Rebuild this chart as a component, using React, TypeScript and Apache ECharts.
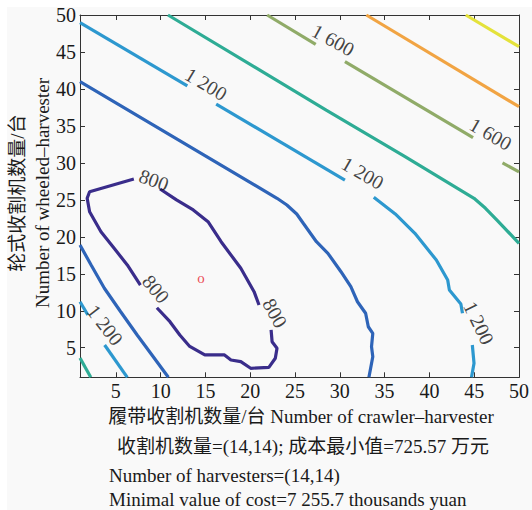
import React, { useEffect, useRef } from "react";
import * as echarts from "echarts";

// ---------- data ----------
const axisTicks = [5, 10, 15, 20, 25, 30, 35, 40, 45, 50];

const contourLevels = [800, 1000, 1200, 1400, 1600, 1800, 2000];

// contour segments [crawler, wheeled] (gaps where labels sit)
const c800a = [[7.01, 27.82], [2.07, 26.1], [1.8, 25.21], [2.07, 23.4], [3.34, 20.69], [4.81, 18.45], [6.28, 16.19], [7.74, 13.48]];
const c800b = [[9.58, 10.41], [11.04, 8.52], [12.14, 6.72], [13.2, 5.23], [14.93, 4.02], [17.13, 4.02], [17.85, 3.34], [18.95, 3.11], [20.05, 2.22], [22.08, 2.35], [22.8, 3.57], [22.99, 4.92], [22.44, 5.81], [22.33, 7.4]];
const c800c = [[20.98, 10.78], [20.43, 12.58], [18.95, 15.74], [16.75, 19.34], [15.29, 22.04], [13.64, 23.63], [11.77, 24.99], [9.94, 26.47]];

const c1000a = [[1, 18.89], [2.24, 16.19], [3.72, 13.04], [5.54, 9.87], [7.38, 6.72], [9.03, 4.02], [10.86, 1]];
const c1000b = [[1, 40.98], [22.99, 25.21], [24.09, 24.3], [25.19, 23.09], [25.92, 21.83], [27.39, 19.34], [28.67, 17.77], [30.13, 15.28], [31.23, 13.25], [31.97, 11.22], [32.88, 9.66], [33.18, 7.84], [33.68, 6.95], [33.54, 5.14], [33.68, 3.79], [33.25, 1]];

const c1200a = [[1, 11.22], [1.88, 9.43]];
const c1200b = [[3.75, 5.37], [6.28, 1]];
const c1200c = [[1, 48.96], [12.98, 40.4]];
const c1200d = [[16.2, 37.96], [30.57, 27.68]];
const c1200e = [[33.79, 25.34], [36.19, 23.09], [38.38, 20.48], [40.77, 16.86], [42.04, 14.16], [42.23, 12.81], [43.51, 10.91], [43.69, 9.66]];
const c1200f = [[44.79, 5.37], [44.98, 2.89], [44.7, 1]];

const c1400a = [[1, 3.6], [2.2, 1]];
const c1400b = [[10.82, 50], [28.48, 37.15], [37.28, 30.83], [44.98, 25.21], [46.26, 23.86], [47.54, 22.27], [50, 19.12]];

const c1600a = [[21.89, 50], [27.31, 46.03]];
const c1600b = [[30.57, 43.68], [44.87, 33.4]];
const c1600c = [[48.16, 30.0], [50, 28.78]];

const c1800a = [[32.96, 50], [50, 37.6]];
const c2000a = [[44.06, 50], [50, 45.71]];

const segments: [number, number[][]][] = [
  [800, c800a], [800, c800b], [800, c800c],
  [1000, c1000a], [1000, c1000b],
  [1200, c1200a], [1200, c1200b], [1200, c1200c], [1200, c1200d], [1200, c1200e], [1200, c1200f],
  [1400, c1400a], [1400, c1400b],
  [1600, c1600a], [1600, c1600b], [1600, c1600c],
  [1800, c1800a],
  [2000, c2000a],
];

// contour labels: [x, y, text, angle]
const contourLabels: [number, number, string, number][] = [
  [15.07, 40.67, "1 200", -31],
  [29.25, 46.62, "1 600", -29],
  [46.84, 33.91, "1 600", -30],
  [32.55, 28.64, "1 200", -30],
  [45.52, 8.34, "1 200", -64],
  [3.8, 8.07, "1 200", -52],
  [9.25, 27.69, "800", -20],
  [9.47, 12.94, "800", -50],
  [22.77, 9.7, "800", -61],
];

const optimum = [14, 14];

const xName = "履带收割机数量/台 Number of crawler–harvester";
const yNameCn = "轮式收割机数量/台";
const yNameEn = "Number of wheeled–harvester";
const noteCn = "收割机数量=(14,14); 成本最小值=725.57 万元";
const noteEn1 = "Number of harvesters=(14,14)";
const noteEn2 = "Minimal value of cost=7 255.7 thousands yuan";

// ---------- styles ----------
const levelColors: Record<number, string> = {
  800: "#3a2d8b",
  1000: "#2e64b8",
  1200: "#2d98cf",
  1400: "#2eac95",
  1600: "#90ab68",
  1800: "#f1a443",
  2000: "#e4e23b",
};
const SERIF = "Liberation Serif";
const FONT = "'Liberation Serif', 'Noto Sans CJK SC', serif";

export default function App() {
  const ref = useRef<HTMLDivElement>(null);
  useEffect(() => {
    if (!ref.current) return;
    const chart = echarts.init(ref.current, null, { renderer: "svg" });

    const baseAxis = (showLabel: boolean, pos: string) => ({
      type: "value",
      min: 1,
      max: 50,
      position: pos,
      axisLine: { show: true, onZero: false, lineStyle: { color: "#333", width: 1 } },
      axisTick: { show: true, inside: true, length: 5, customValues: axisTicks, lineStyle: { color: "#333", width: 1 } },
      axisLabel: {
        show: showLabel,
        customValues: axisTicks,
        fontSize: 20,
        fontFamily: SERIF,
        color: "#1a1a1a",
        margin: 4,
      },
      splitLine: { show: false },
    });

    const lineSeries = segments.map(([lvl, pts]) => ({
      type: "line",
      data: pts,
      symbol: "none",
      silent: true,
      lineStyle: { color: levelColors[lvl], width: 3.2 },
      z: 3,
    }));

    const option: any = {
      animation: false,
      backgroundColor: "#ffffff",
      grid: { left: 80, right: 6.3, top: 15, bottom: 132.7, containLabel: false },
      xAxis: [baseAxis(true, "bottom"), baseAxis(false, "top")],
      yAxis: [baseAxis(true, "left"), baseAxis(false, "right")],
      series: [
        ...lineSeries,
        {
          type: "scatter",
          symbolSize: 0,
          silent: true,
          z: 5,
          data: contourLabels.map(([x, y, t, r]) => ({ name: t, value: [x, y], label: { rotate: r } })),
          label: {
            show: true,
            position: "inside",
            formatter: "{b}",
            fontSize: 20,
            fontFamily: SERIF,
            color: "#111",
          },
        },
        {
          type: "scatter",
          symbolSize: 0,
          silent: true,
          z: 5,
          data: [optimum],
          label: {
            show: true,
            position: "inside",
            formatter: "o",
            offset: [4.5, -3],
            fontSize: 15,
            fontFamily: SERIF,
            color: "#e8202a",
          },
        },
      ],
      graphic: [
        { type: "rect", z: -10, silent: true, shape: { x: 7, y: 7, width: 525, height: 503 }, style: { fill: "#f9f9f9" } },
        { type: "text", x: 17, y: 193, rotation: Math.PI / 2, style: { text: yNameCn, font: `19px ${FONT}`, fill: "#1a1a1a", textAlign: "center", textVerticalAlign: "middle" } },
        { type: "text", x: 42, y: 193, rotation: Math.PI / 2, style: { text: yNameEn, font: `19px ${FONT}`, fill: "#1a1a1a", textAlign: "center", textVerticalAlign: "middle" } },
        { type: "text", x: 301, y: 416, style: { text: xName, font: `19px ${FONT}`, fill: "#1a1a1a", textAlign: "center", textVerticalAlign: "middle" } },
        { type: "text", x: 303, y: 446, style: { text: noteCn, font: `19px ${FONT}`, fill: "#1a1a1a", textAlign: "center", textVerticalAlign: "middle" } },
        { type: "text", x: 109, y: 475, style: { text: noteEn1, font: `19px ${FONT}`, fill: "#1a1a1a", textAlign: "left", textVerticalAlign: "middle" } },
        { type: "text", x: 109, y: 499, style: { text: noteEn2, font: `19px ${FONT}`, fill: "#1a1a1a", textAlign: "left", textVerticalAlign: "middle" } },
      ],
    };
    chart.setOption(option);
    return () => chart.dispose();
  }, []);
  return <div ref={ref} style={{ position: "absolute", left: 0, top: 0, width: 532, height: 510 }} />;
}
